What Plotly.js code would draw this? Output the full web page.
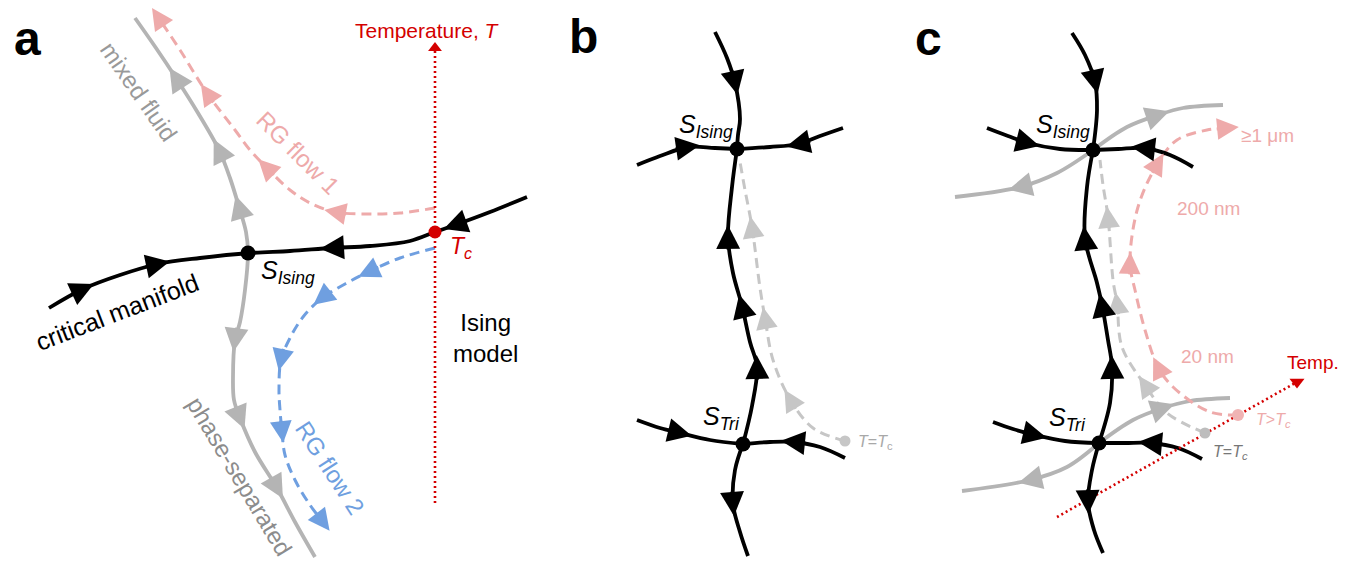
<!DOCTYPE html>
<html>
<head>
<meta charset="utf-8">
<script src="https://cdn.plot.ly/plotly-3.0.1.min.js"></script>
<style>html,body{margin:0;padding:0;background:#fff;}#chart{width:1354px;height:561px;}</style>
</head>
<body>
<div id="chart"></div>
<script>
// ---------- Panel a ----------
const aGrayX = [135,156,176,198,219,230,239,246,248,245,240,235,233,234,240,255,277,295,315];
const aGrayY = [18,48,78,113,150,178,207,232,253,290,322,340,377,400,418,452,488,522,557];
const aGrayArrows = [2,4,6,11,14,16];
const aGrayDirs = [-1,-1,-1,1,1,1];

const aBlackX = [49,83,120,158,200,250,290,332,370,410,435,455,490,527];
const aBlackY = [308,289,275,264,258,253,251,248,246,241,232,225,212,197];
const aBlackArrows = [1,3,7,11];
const aBlackDirs = [1,1,-1,-1];

const aFlow1X = [435,400,368,335,310,290,266,250,235,207,180,158];
const aFlow1Y = [208,213,214,212,203,190,167,150,130,93,50,17];
const aFlow1Arrows = [3,6,9,11];
const aFlow1Dirs = [1,1,1,1];

const aFlow2X = [435,400,368,345,322,303,290,281,279,280,282,285,295,310,323];
const aFlow2Y = [248,258,272,284,298,317,338,360,390,410,432,455,480,505,522];
const aFlow2Arrows = [2,4,7,10,14];
const aFlow2Dirs = [1,1,1,1,1];

const aTempX = [435,435];
const aTempY = [503,48];

const aFixedX = [248];
const aFixedY = [253];
const aTcX = [435];
const aTcY = [232];

// ---------- Panel b ----------
const bTopX = [715,727,735,740,738,737];
const bTopY = [32,58,83,119,135,149];
const bTopArrows = [2];
const bTopDirs = [1];

const bMidX = [743,752,757,750,742,733,728,732,737];
const bMidY = [444,406,367,342,306,273,237,187,149];
const bMidArrows = [2,4,6];
const bMidDirs = [1,1,1];

const bBotX = [743,735,733,740,748];
const bBotY = [444,470,504,532,556];
const bBotArrows = [2];
const bBotDirs = [1];

const bUpLX = [637,660,688,715,737];
const bUpLY = [165,156,147,148,149];
const bUpRX = [843,820,798,770,737];
const bUpRY = [128,136,144,147,149];
const bLoLX = [637,660,680,710,743];
const bLoLY = [420,428,433,440,444];
const bLoRX = [845,820,793,770,743];
const bLoRY = [458,447,442,442,444];
const bSideArrows = [2];
const bSideDirs = [1];

const bDashX = [845,813,790,773,765,760,752,745,740];
const bDashY = [441,428,399,360,318,288,227,190,162];
const bDashArrows = [2,4,6];
const bDashDirs = [1,1,1];

const bFixedX = [737,743];
const bFixedY = [149,444];
const bTcDotX = [845];
const bTcDotY = [441];

// ---------- Panel c ----------
const cTopX = [1072,1085,1095,1097,1093];
const cTopY = [33,55,82,110,150];
const cTopArrows = [2];
const cTopDirs = [1];

const cMidX = [1099,1110,1112,1108,1102,1097,1085,1087,1093];
const cMidY = [443,403,367,340,305,283,238,187,150];
const cMidArrows = [2,4,6];
const cMidDirs = [1,1,1];

const cBotX = [1099,1092,1088,1094,1103];
const cBotY = [443,470,502,530,553];
const cBotArrows = [2];
const cBotDirs = [1];

const cUpLX = [987,1008,1028,1060,1093];
const cUpLY = [128,136,143,149,150];
const cUpRX = [1193,1170,1143,1118,1093];
const cUpRY = [167,155,148,149,150];
const cLoLX = [993,1013,1035,1065,1099];
const cLoLY = [422,429,435,441,443];
const cLoRX = [1202,1178,1150,1125,1099];
const cLoRY = [459,448,443,443,443];
const cSideArrows = [2];
const cSideDirs = [1];

const cGrayUpRX = [1093,1127,1158,1183,1223];
const cGrayUpRY = [150,127,115,108,105];
const cGrayUpLX = [1093,1057,1020,955];
const cGrayUpLY = [150,173,187,197];
const cGrayLoRX = [1099,1133,1163,1190,1230];
const cGrayLoRY = [443,420,408,401,398];
const cGrayLoLX = [1099,1067,1030,962];
const cGrayLoLY = [443,467,480,491];
const cGrayArrows = [2];
const cGrayDirs = [1];

const cDashX = [1205,1167,1145,1122,1117,1113,1108,1103,1100];
const cDashY = [433,413,385,347,303,280,217,185,160];
const cDashArrows = [2,4,6];
const cDashDirs = [1,1,1];

const cPinkX = [1238,1210,1173,1158,1145,1135,1130,1138,1158,1177,1207,1228];
const cPinkY = [415,412,387,367,330,290,263,207,163,140,130,128];
const cPinkArrows = [3,6,8,11];
const cPinkDirs = [1,1,1,1];

const cTempX = [1057,1297];
const cTempY = [517,382];

const cFixedX = [1093,1099];
const cFixedY = [150,443];
const cTcDotX = [1205];
const cTcDotY = [433];
const cHotDotX = [1238];
const cHotDotY = [415];

// ---------- colours ----------
const BLACK = '#000000';
const GRAY = '#b4b4b4';
const GRAYDASH = '#c6c6c6';
const PINK = '#eeaaaa';
const BLUE = '#6f9fe0';
const RED = '#d40000';
const FONT = 'Liberation Sans, Arial, Helvetica, sans-serif';

const traces = [];
const arrowAnns = [];
const HEADSIZE = 1.45;

function addArrows(x, y, idx, dir, color, w) {
  idx.forEach((i, k) => {
    const i0 = Math.max(0, i - 1), i1 = Math.min(x.length - 1, i + 1);
    let dx = (x[i1] - x[i0]) * dir[k];
    let dy = (y[i1] - y[i0]) * dir[k];
    const L = Math.hypot(dx, dy);
    dx /= L; dy /= L;
    const half = 2.5 * w * HEADSIZE;   // half of head length (arrowhead style 2 is 5 units long)
    arrowAnns.push({
      x: x[i] + dx * half, y: y[i] + dy * half, xref: 'x', yref: 'y',
      text: '', showarrow: true, arrowhead: 2, arrowsize: HEADSIZE, arrowwidth: w,
      arrowcolor: color, ax: -dx * (2 * half + 1), ay: -dy * (2 * half + 1),
      standoff: 0, startstandoff: 0, borderpad: 0, font: {size: 1}
    });
  });
}

function curve(x, y, color, width, dash, idx, dir, headW) {
  traces.push({
    type: 'scatter', mode: 'lines', x: x, y: y, hoverinfo: 'skip',
    line: {color: color, width: width, dash: dash || 'solid', shape: 'spline', smoothing: 1}
  });
  if (idx && idx.length) addArrows(x, y, idx, dir, color, headW);
}

function dots(x, y, color, size) {
  traces.push({type: 'scatter', mode: 'markers', x: x, y: y, hoverinfo: 'skip',
    marker: {symbol: 'circle', size: size, color: color, line: {width: 0}}});
}

const DASH = '10px,6px';
const LW = 3.8;
const HB = 3.3;   // head scale for solid lines
const HD = 3.0;   // head scale for dashed lines

// panel a
curve(aGrayX, aGrayY, GRAY, LW, null, aGrayArrows, aGrayDirs, HB);
curve(aFlow1X, aFlow1Y, PINK, 3, DASH, aFlow1Arrows, aFlow1Dirs, HD);
curve(aFlow2X, aFlow2Y, BLUE, 3, DASH, aFlow2Arrows, aFlow2Dirs, HD);
traces.push({type: 'scatter', mode: 'lines', x: aTempX, y: aTempY, hoverinfo: 'skip',
  line: {color: RED, width: 2.6, dash: '2px,3px'}});
traces.push({type: 'scatter', mode: 'markers', x: [aTempX[1]], y: [aTempY[1]], hoverinfo: 'skip',
  marker: {symbol: 'triangle-up', size: 12, color: RED}});
curve(aBlackX, aBlackY, BLACK, LW, null, aBlackArrows, aBlackDirs, HB);
dots(aFixedX, aFixedY, BLACK, 15);
dots(aTcX, aTcY, RED, 13);

// panel b
curve(bDashX, bDashY, GRAYDASH, 3, DASH, bDashArrows, bDashDirs, HD);
dots(bTcDotX, bTcDotY, GRAYDASH, 11);
curve(bTopX, bTopY, BLACK, LW, null, bTopArrows, bTopDirs, HB);
curve(bMidX, bMidY, BLACK, LW, null, bMidArrows, bMidDirs, HB);
curve(bBotX, bBotY, BLACK, LW, null, bBotArrows, bBotDirs, HB);
curve(bUpLX, bUpLY, BLACK, LW, null, bSideArrows, bSideDirs, HB);
curve(bUpRX, bUpRY, BLACK, LW, null, bSideArrows, bSideDirs, HB);
curve(bLoLX, bLoLY, BLACK, LW, null, bSideArrows, bSideDirs, HB);
curve(bLoRX, bLoRY, BLACK, LW, null, bSideArrows, bSideDirs, HB);
dots(bFixedX, bFixedY, BLACK, 15);

// panel c
curve(cGrayUpRX, cGrayUpRY, GRAY, LW, null, cGrayArrows, cGrayDirs, HB);
curve(cGrayUpLX, cGrayUpLY, GRAY, LW, null, cGrayArrows, cGrayDirs, HB);
curve(cGrayLoRX, cGrayLoRY, GRAY, LW, null, cGrayArrows, cGrayDirs, HB);
curve(cGrayLoLX, cGrayLoLY, GRAY, LW, null, cGrayArrows, cGrayDirs, HB);
curve(cDashX, cDashY, GRAYDASH, 3, DASH, cDashArrows, cDashDirs, HD);
curve(cPinkX, cPinkY, PINK, 3, DASH, cPinkArrows, cPinkDirs, HD);
curve(cTopX, cTopY, BLACK, LW, null, cTopArrows, cTopDirs, HB);
curve(cMidX, cMidY, BLACK, LW, null, cMidArrows, cMidDirs, HB);
curve(cBotX, cBotY, BLACK, LW, null, cBotArrows, cBotDirs, HB);
curve(cUpLX, cUpLY, BLACK, LW, null, cSideArrows, cSideDirs, HB);
curve(cUpRX, cUpRY, BLACK, LW, null, cSideArrows, cSideDirs, HB);
curve(cLoLX, cLoLY, BLACK, LW, null, cSideArrows, cSideDirs, HB);
curve(cLoRX, cLoRY, BLACK, LW, null, cSideArrows, cSideDirs, HB);
traces.push({type: 'scatter', mode: 'lines', x: cTempX, y: cTempY, hoverinfo: 'skip',
  line: {color: RED, width: 2.6, dash: '2px,3px'}});
traces.push({type: 'scatter', mode: 'markers', x: [cTempX[1]], y: [cTempY[1]], hoverinfo: 'skip',
  marker: {symbol: 'triangle-down', size: 13, color: RED}});
dots(cFixedX, cFixedY, BLACK, 15);
dots(cTcDotX, cTcDotY, '#bdbdbd', 11);
dots(cHotDotX, cHotDotY, '#f0b4b4', 12);

function ann(text, x, y, opts) {
  const o = opts || {};
  return {text: text, x: x, y: y, xref: 'x', yref: 'y', showarrow: false,
    xanchor: o.xanchor || 'center', yanchor: o.yanchor || 'middle',
    textangle: o.angle || 0, align: o.align || 'center',
    font: {family: FONT, size: o.size || 24, color: o.color || BLACK}};
}

const annotations = arrowAnns.concat([
  ann('<b>a</b>', 27, 38, {size: 48}),
  ann('<b>b</b>', 583, 36, {size: 48}),
  ann('<b>c</b>', 928, 38, {size: 48}),
  // panel a
  ann('Temperature, <i>T</i>', 427, 30, {size: 21, color: RED}),
  ann('<i>T</i><sub><i>c</i></sub>', 461, 247, {size: 23, color: RED}),
  ann('<i>S</i><sub><i>Ising</i></sub>', 288, 272, {size: 25}),
  ann('Ising<br>model', 485, 338, {size: 24}),
  ann('critical manifold', 117, 312, {size: 25, angle: -21}),
  ann('mixed fluid', 139, 91, {size: 24, angle: 55, color: '#999999'}),
  ann('phase-separated', 240, 476, {size: 24, angle: 59, color: '#8c8c8c'}),
  ann('RG flow 1', 298, 152, {size: 24, angle: 45, color: PINK}),
  ann('RG flow 2', 330, 467, {size: 24, angle: 57, color: BLUE}),
  // panel b
  ann('<i>S</i><sub><i>Ising</i></sub>', 706, 126, {size: 25}),
  ann('<i>S</i><sub><i>Tri</i></sub>', 721, 418, {size: 25}),
  ann('<i>T</i>=<i>T</i><sub>c</sub>', 856, 442, {size: 16, color: '#a8a8a8', xanchor: 'left'}),
  // panel c
  ann('<i>S</i><sub><i>Ising</i></sub>', 1063, 126, {size: 25}),
  ann('<i>S</i><sub><i>Tri</i></sub>', 1067, 419, {size: 25}),
  ann('\u22651 \u03bcm', 1239, 135, {size: 19, color: PINK, xanchor: 'left'}),
  ann('200 nm', 1208, 208, {size: 19, color: PINK}),
  ann('20 nm', 1207, 356, {size: 19, color: PINK}),
  ann('<i>T</i>&gt;<i>T</i><sub><i>c</i></sub>', 1254, 420, {size: 16, color: PINK, xanchor: 'left'}),
  ann('<i>T</i>=<i>T</i><sub><i>c</i></sub>', 1211, 452, {size: 16, color: '#777777', xanchor: 'left'}),
  ann('Temp.', 1313, 362, {size: 19, color: RED})
]);

const layout = {
  width: 1354, height: 561,
  margin: {l: 0, r: 0, t: 0, b: 0, pad: 0},
  paper_bgcolor: '#ffffff', plot_bgcolor: '#ffffff',
  showlegend: false,
  xaxis: {range: [0, 1354], visible: false, fixedrange: true},
  yaxis: {range: [561, 0], visible: false, fixedrange: true},
  annotations: annotations,
  font: {family: FONT}
};

Plotly.newPlot('chart', traces, layout, {displayModeBar: false, staticPlot: true});
</script>
</body>
</html>
